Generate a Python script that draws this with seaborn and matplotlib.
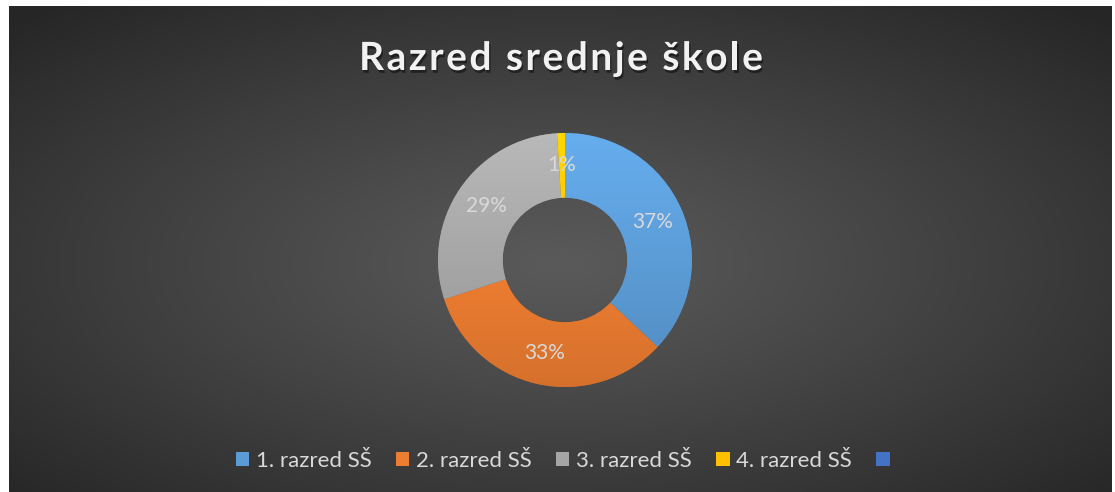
import numpy as np
import matplotlib
matplotlib.use("Agg")
import matplotlib.pyplot as plt
import matplotlib.patheffects as pe
from matplotlib.patches import Patch
from matplotlib.colors import to_rgb
from matplotlib.font_manager import FontProperties, findfont
from matplotlib.ft2font import FT2Font
import seaborn as sns

# data
categories = ["1. razred SŠ", "2. razred SŠ", "3. razred SŠ", "4. razred SŠ", ""]
shares = [37, 33, 29, 1, 0]
colors = ["#5B9BD5", "#ED7D31", "#A5A5A5", "#FFC000", "#4472C4"]
title = "Razred srednje škole"

sns.set_theme(style="white")
plt.rcParams["font.family"] = ["Lato", "DejaVu Sans"]

W, H = 1115, 492
fig = plt.figure(figsize=(W / 100, H / 100), dpi=100, facecolor="white")

# radial gradient background
bg = fig.add_axes([9 / W, 0, (1112 - 9) / W, (492 - 6) / H])
yy, xx = np.mgrid[0:1:250j, 0:1:560j]
d = np.sqrt(((xx - 0.5) / 0.5) ** 2 + ((yy - 0.53) / 0.5) ** 2) / np.sqrt(2)
d = np.clip(d, 0, 1)
lum = (0x5A + (0x26 - 0x5A) * d ** 1.1) / 255
bg.imshow(np.dstack([lum, lum, lum]), aspect="auto", extent=(0, 1, 0, 1))
bg.set_axis_off()

# donut
cx, cy, r = 565, 260, 127
ax = fig.add_axes([(cx - r) / W, 1 - (cy + r) / H, 2 * r / W, 2 * r / H])
wedges, texts, autotexts = ax.pie(
    shares,
    colors=sns.color_palette(colors),
    startangle=90,
    counterclock=False,
    autopct=lambda p: f"{p:.0f}%" if p > 0 else "",
    pctdistance=0.75,
    wedgeprops=dict(width=0.51, edgecolor="#4a4a4a", linewidth=0.3),
    textprops=dict(color="#D9D9D9", fontsize=15),
)

# soft vertical shading inside each slice (lighter on top)
shade = np.linspace(1.12, 0.9, 200)[:, None]
for w, c in zip(wedges, colors):
    rgb = np.clip(np.array(to_rgb(c))[None, None, :] * shade[:, :, None], 0, 1)
    rgb = np.repeat(rgb, 2, axis=1)
    im = ax.imshow(rgb, extent=(-1, 1, -1, 1), aspect="auto", zorder=w.get_zorder() + 0.1)
    im.set_clip_path(w)
for t in autotexts:
    t.set_zorder(5)

ax.set_xlim(-1, 1)
ax.set_ylim(-1, 1)
ax.set_aspect("equal")
ax.set_axis_off()

# title with letter spacing
tsize = 28
prop = FontProperties(family=["Lato"], weight="bold", size=tsize)
font = FT2Font(findfont(prop))
font.set_size(tsize, 100)
adv = [font.load_char(ord(c)).linearHoriAdvance / 65536 for c in title]
spacing = 2.5
total = sum(adv) + spacing * (len(title) - 1)
x = 561 - total / 2
for c, a in zip(title, adv):
    fig.text(x / W, 1 - 70 / H, c, fontproperties=prop, color="#F2F2F2",
             ha="left", va="baseline",
             path_effects=[pe.withSimplePatchShadow(offset=(1, -2), shadow_rgbFace="black", alpha=0.45)])
    x += a + spacing

# legend
handles = [Patch(facecolor=c, edgecolor="none") for c in colors]
fig.legend(handles, categories, loc="center", bbox_to_anchor=(566 / W, 1 - 461 / H),
           ncol=5, frameon=False, fontsize=16, labelcolor="#D9D9D9",
           handlelength=0.6, handleheight=0.6, handletextpad=0.3, columnspacing=1.1)

fig.savefig("out.png", dpi=100, facecolor="white")
